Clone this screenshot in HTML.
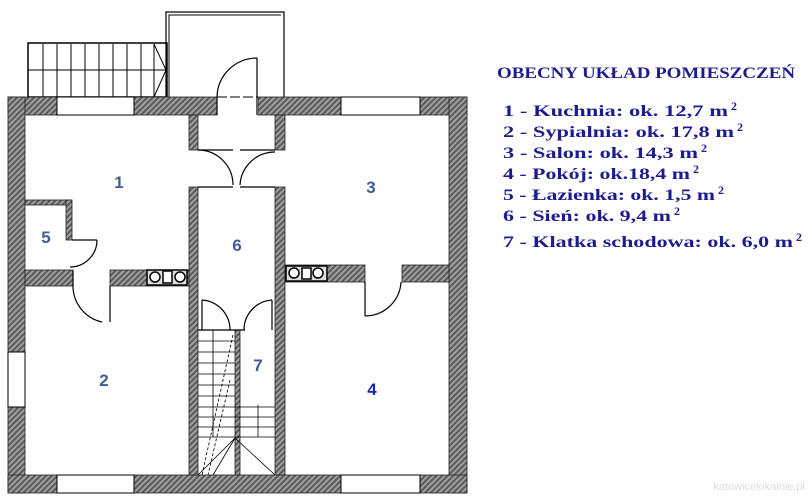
<!DOCTYPE html>
<html><head><meta charset="utf-8"><style>body{margin:0;background:#fff}svg{display:block}</style></head><body>
<svg width="809" height="500" viewBox="0 0 809 500" xmlns="http://www.w3.org/2000/svg">
<defs>
<pattern id="h" width="4" height="4" patternUnits="userSpaceOnUse" patternTransform="rotate(45)">
<rect width="4" height="4" fill="#a0a0a0"/><rect width="2" height="4" fill="#5a5a5a"/>
</pattern>
</defs>
<path d="M166,97 V12 H284 V97" fill="none" stroke="#000" stroke-width="1.2"/>
<path d="M169,97 V15 H281" fill="none" stroke="#000" stroke-width="1"/>
<rect x="28" y="43" width="139" height="54" fill="none" stroke="#000" stroke-width="1.5"/>
<g stroke="#000" stroke-width="1">
<line x1="28" y1="70" x2="166" y2="70"/>
<line x1="43" y1="44" x2="43" y2="97"/><line x1="57" y1="44" x2="57" y2="97"/><line x1="71" y1="44" x2="71" y2="97"/><line x1="85" y1="44" x2="85" y2="97"/><line x1="99" y1="44" x2="99" y2="97"/><line x1="113" y1="44" x2="113" y2="97"/><line x1="127" y1="44" x2="127" y2="97"/><line x1="141" y1="44" x2="141" y2="97"/><line x1="154" y1="44" x2="154" y2="97"/>
<polyline points="154,44 166,70 154,97" fill="none"/>
</g>
<g fill="url(#h)" stroke="#222" stroke-width="0.8">
<rect x="8" y="97" width="209" height="18"/>
<rect x="258" y="97" width="209" height="18"/>
<rect x="8" y="97" width="17" height="396"/>
<rect x="449" y="97" width="18" height="396"/>
<rect x="8" y="475" width="459" height="18"/>
<rect x="189" y="115" width="9" height="35"/>
<rect x="275" y="115" width="10" height="35"/>
<rect x="189" y="187" width="9" height="288"/>
<rect x="275" y="187" width="10" height="288"/>
<rect x="25" y="270" width="48" height="16"/>
<rect x="110" y="270" width="79" height="16"/>
<rect x="285" y="265" width="80" height="17"/>
<rect x="402" y="265" width="47" height="17"/>
<rect x="25" y="200" width="46" height="5"/>
<rect x="66" y="200" width="6" height="40"/>
<rect x="235" y="330" width="5" height="145"/>
</g>
<g fill="#fff" stroke="#000" stroke-width="1">
<rect x="57" y="97" width="77" height="18"/>
<rect x="341" y="97" width="79" height="18"/>
<rect x="57" y="475" width="77" height="18"/>
<rect x="341" y="475" width="79" height="18"/>
<rect x="8" y="352" width="17" height="55"/>
</g>
<rect x="217" y="97" width="41" height="18" fill="#fff"/>
<line x1="217" y1="97" x2="258" y2="97" stroke="#000" stroke-width="1" stroke-dasharray="10,3"/>
<g fill="#fff" stroke="#000" stroke-width="1.5">
<rect x="147" y="270" width="40" height="15" fill="#ddd"/>
<circle cx="155" cy="277" r="5"/><circle cx="180" cy="277" r="5"/><rect x="163" y="271" width="9" height="12"/>
<rect x="286" y="266" width="41" height="15" fill="#ddd"/>
<circle cx="294" cy="273" r="5"/><circle cx="318" cy="273" r="5"/><rect x="302" y="268" width="9" height="11"/>
</g>
<g fill="none" stroke="#000" stroke-width="1.2">
<line x1="217" y1="97" x2="217" y2="115"/>
<line x1="257" y1="58" x2="257" y2="115"/><path d="M257,58 A40,40 0 0 0 217,97"/>
<line x1="198" y1="150" x2="233" y2="150"/><path d="M198,150 A35,35 0 0 1 233,185"/><line x1="198" y1="187" x2="233" y2="187"/>
<line x1="275" y1="150" x2="240" y2="150"/><path d="M275,152 A35,35 0 0 0 240,185"/><line x1="275" y1="187" x2="240" y2="187"/>
<line x1="72" y1="240" x2="97" y2="240"/><path d="M97,240 A27,27 0 0 1 70,267"/>
<line x1="73" y1="270" x2="73" y2="286"/><path d="M73,286 A37,37 0 0 0 102,322"/><line x1="110" y1="286" x2="110" y2="322"/>
<line x1="365" y1="282" x2="365" y2="316"/><path d="M365,316 A36,36 0 0 0 401,282"/>
<line x1="202" y1="300" x2="202" y2="330"/><path d="M202,300 A30,30 0 0 1 230,330"/>
<line x1="272" y1="300" x2="272" y2="330"/><path d="M272,300 A30,30 0 0 0 244,330"/>
<line x1="198" y1="330" x2="245" y2="330"/>
</g>
<g stroke="#000" stroke-width="0.8" fill="none">
<line x1="198" y1="341" x2="235" y2="341"/><line x1="198" y1="352" x2="235" y2="352"/><line x1="198" y1="363" x2="235" y2="363"/><line x1="198" y1="374" x2="235" y2="374"/><line x1="198" y1="385" x2="235" y2="385"/><line x1="198" y1="396" x2="235" y2="396"/><line x1="198" y1="407" x2="275" y2="407"/><line x1="198" y1="417" x2="275" y2="417"/><line x1="198" y1="427" x2="275" y2="427"/><line x1="198" y1="437" x2="275" y2="437"/>
<line x1="258" y1="405" x2="258" y2="437"/>
<line x1="213" y1="330" x2="213" y2="437"/>
<line x1="235" y1="438" x2="275" y2="475"/><line x1="235" y1="438" x2="198" y2="475"/><line x1="235" y1="438" x2="213" y2="475"/>
<line x1="233" y1="335" x2="202" y2="475" stroke-dasharray="3,2"/>
<line x1="230" y1="380" x2="208" y2="475" stroke-dasharray="3,2"/>
</g>
<g font-family="Liberation Sans, sans-serif" font-weight="bold" font-size="17" fill="#3e5b9a" text-anchor="middle">
<text x="119" y="188">1</text><text x="371" y="193">3</text><text x="46" y="243">5</text><text x="237" y="251">6</text><text x="104" y="386">2</text><text x="258" y="371">7</text><text x="372" y="395" fill="#1a2aa8">4</text>
</g>
<g font-family="Liberation Serif, serif" font-weight="bold" fill="#1c1c8e" font-size="16">
<text x="497" y="78" textLength="298" lengthAdjust="spacingAndGlyphs">OBECNY UKŁAD POMIESZCZEŃ</text>
<text x="503" y="116" textLength="225" lengthAdjust="spacingAndGlyphs">1 - Kuchnia: ok. 12,7 m</text><text x="731" y="110" font-size="12">2</text>
<text x="503" y="137" textLength="231" lengthAdjust="spacingAndGlyphs">2 - Sypialnia: ok. 17,8 m</text><text x="737" y="131" font-size="12">2</text>
<text x="503" y="158" textLength="195" lengthAdjust="spacingAndGlyphs">3 - Salon: ok. 14,3 m</text><text x="701" y="152" font-size="12">2</text>
<text x="503" y="179" textLength="187" lengthAdjust="spacingAndGlyphs">4 - Pokój: ok.18,4 m</text><text x="693" y="173" font-size="12">2</text>
<text x="503" y="200" textLength="212" lengthAdjust="spacingAndGlyphs">5 - Łazienka: ok. 1,5 m</text><text x="718" y="194" font-size="12">2</text>
<text x="503" y="221" textLength="168" lengthAdjust="spacingAndGlyphs">6 - Sień: ok. 9,4 m</text><text x="674" y="215" font-size="12">2</text>
<text x="503" y="247" textLength="290" lengthAdjust="spacingAndGlyphs">7 - Klatka schodowa: ok. 6,0 m</text><text x="796" y="241" font-size="12">2</text>
</g>
<text x="805" y="490" text-anchor="end" font-family="Liberation Sans, sans-serif" font-size="11" fill="#ddd">katowicelokalnie.pl</text>
</svg>
</body></html>
